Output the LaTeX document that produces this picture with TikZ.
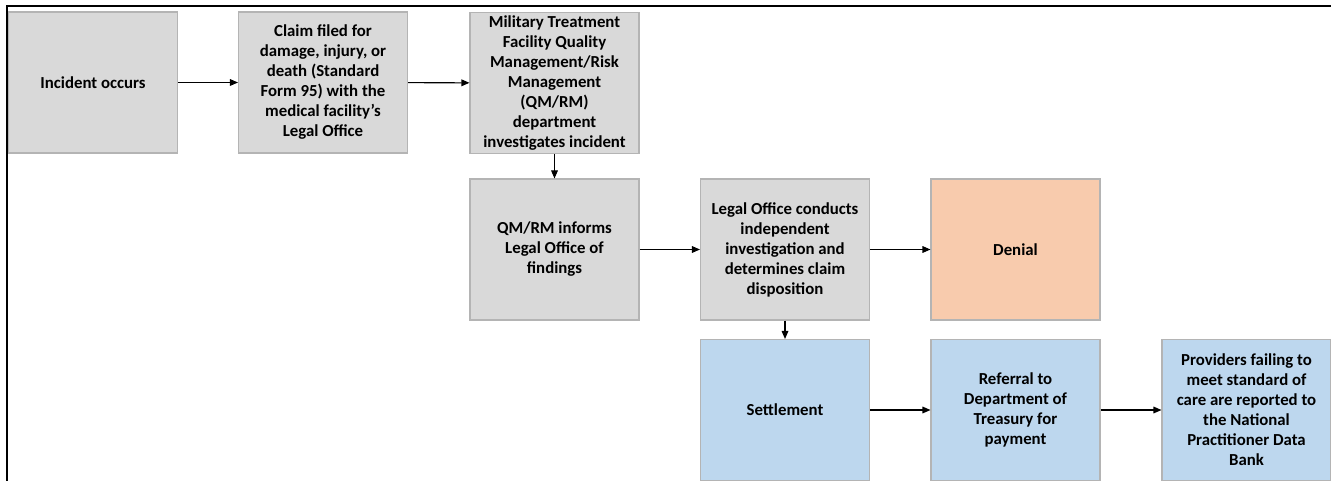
\documentclass[tikz,border=0pt]{standalone}
\usepackage{fontspec}
\setmainfont{Carlito}
\usetikzlibrary{arrows.meta}

\definecolor{boxgray}{HTML}{D9D9D9}
\definecolor{boxpeach}{HTML}{F8CBAD}
\definecolor{boxblue}{HTML}{BDD7EE}
\definecolor{edgegray}{HTML}{B4B4B4}

\tikzset{
  stepbox/.style={draw=edgegray, line width=0.8pt, fill=boxgray,
    minimum width=126.75pt, minimum height=105.75pt, inner sep=2pt,
    align=center, font=\bfseries\fontsize{12.6}{15}\selectfont},
  flow/.style={line width=0.8pt, -{Triangle[length=6pt,width=5pt]}}
}

\begin{document}
\begin{tikzpicture}[x=0.75pt,y=-0.75pt]
\useasboundingbox (0,0) rectangle (1331,481);

% Drawing the outer frame (only top and left visible)
\draw [line width=1.4pt] (7,481) -- (7,6) -- (1331,6);

% Row one
\node [stepbox] (incident) at (93,82.5) {Incident occurs};
\node [stepbox] (claim) at (323,82.5) {Claim filed for\\damage, injury, or\\death (Standard\\Form 95) with the\\medical facility’s\\Legal Office};
\node [stepbox] (mtf) at (554.5,83) {Military Treatment\\Facility Quality\\Management/Risk\\Management\\(QM/RM)\\department\\investigates incident};

% Row two
\node [stepbox] (qmrm) at (554.5,249.5) {QM/RM informs\\Legal Office of\\findings};
\node [stepbox] (legal) at (785,249.5) {Legal Office conducts\\independent\\investigation and\\determines claim\\disposition};
\node [stepbox, fill=boxpeach] (denial) at (1015.5,249.5) {Denial};

% Row three
\node [stepbox, fill=boxblue] (settle) at (785,410) {Settlement};
\node [stepbox, fill=boxblue] (referral) at (1015.5,410) {Referral to\\Department of\\Treasury for\\payment};
\node [stepbox, fill=boxblue] (providers) at (1246.5,410) {Providers failing to\\meet standard of\\care are reported to\\the National\\Practitioner Data\\Bank};

% Drawing connectors
\draw [flow] (incident) -- (claim);
\draw [flow] (claim) -- (mtf);
\draw [flow] (mtf) -- (qmrm);
\draw [flow] (qmrm) -- (legal);
\draw [flow] (legal) -- (denial);
\draw [flow] (legal) -- (settle);
\draw [flow] (settle) -- (referral);
\draw [flow] (referral) -- (providers);
\end{tikzpicture}
\end{document}
